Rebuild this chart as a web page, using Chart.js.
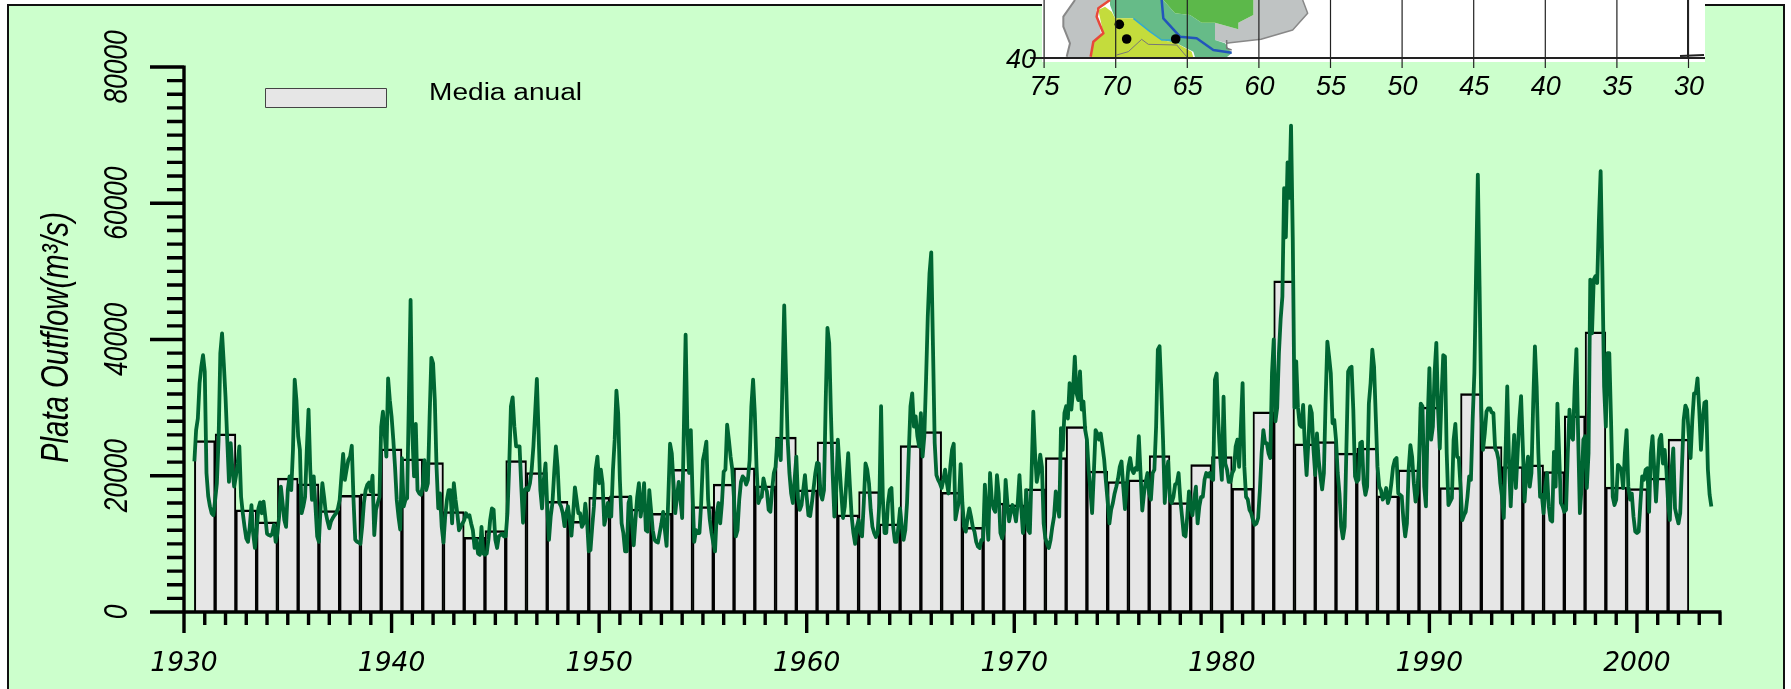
<!DOCTYPE html>
<html><head><meta charset="utf-8">
<style>html,body{margin:0;padding:0;background:#fff;overflow:hidden}canvas{display:block}</style>
<script src="https://cdn.jsdelivr.net/npm/chart.js@4"></script>
</head><body><canvas id="c" width="1791" height="689"></canvas>
<script>
const seriesStartYear = 1930.5;
const firstBarYear = 1931;
const yTickLabels = [0, 20000, 40000, 60000, 80000];
const xTickLabels = [1930, 1940, 1950, 1960, 1970, 1980, 1990, 2000];
const insetLonLabels = [75, 70, 65, 60, 55, 50, 45, 40, 35, 30];
const annualMean = [
25160,26150,14980,13220,19640,18800,14880,17140,17330,23940,22480,21930,14730,10970,11950,22230,20470,16260,13320,
16850,17040,15090,14500,20960,15470,18760,21150,18510,25660,17920,24970,14250,17670,12930,24430,26490,17580,12440,
15970,15720,18070,22670,27220,20670,19140,19390,22960,16060,21640,22810,18170,29380,48620,24680,25020,23310,24050,
17040,20860,30070,18260,32070,24280,21350,21600,20610,28790,41130,18320,18110,19640,25370];
const monthlyFlow = [
22100,26700,28400,33600,36000,37700,35300,20400,17000,15500,14500,14200,
16450,18900,25300,38000,40900,36500,31600,25300,19100,24800,20900,18400,
19900,21800,24300,16900,14500,12500,10800,10300,12500,15700,11500,9400,
12000,15200,16100,14500,16200,14000,11500,11300,11200,11500,12800,10300,
11500,14000,18400,16000,13500,12500,17900,19900,17900,23800,34100,31100,
25800,23800,14500,15500,16900,23800,29700,20900,16450,19900,15500,11100,
10300,15500,18900,16900,14500,13300,12300,13300,13800,14200,14500,15200,
16450,19900,23200,19400,20900,22300,22800,24400,16450,10600,10300,10200,
10000,12500,16000,17900,18700,19000,17700,20000,11300,15000,16000,16900,
27200,29400,26200,22800,34300,31100,28700,25300,21300,16450,14000,12100,
22600,15500,16450,16700,31100,45800,26200,19900,27600,17900,17400,17200,
18400,22300,17900,18900,28700,37300,36500,31100,21300,15200,17400,12500,
10200,14000,16450,17900,17900,13000,18900,16450,14500,12000,12500,13000,
13500,14500,14000,14200,13000,12000,9400,10600,8600,8400,12500,8600,
8400,8600,10600,13500,15200,15000,10600,9400,11100,11300,11500,11100,
11100,14500,21300,30200,31500,27200,24300,24300,24300,18400,13100,17900,
18200,17900,18900,20900,24300,29200,34200,26200,17900,15200,19400,21800,
15500,10600,14000,16000,20400,24300,21300,16000,15500,14500,12600,14500,
15500,13500,11200,14500,18300,16450,14500,14500,12500,13000,15900,13500,
8900,9100,12500,15500,20900,22800,18900,20900,18900,12800,14000,16000,
14000,14000,20900,25300,32500,29200,19400,13000,11600,8900,8900,16000,
16900,13000,9800,13500,16900,18900,14000,16000,18900,12000,11800,17900,
15000,12000,10600,10300,10200,11600,13000,14700,12000,9700,16900,24700,
23300,18900,14500,16900,19100,16500,13800,27200,40700,26700,20400,26700,
17400,10300,12000,11600,11600,16000,22300,23500,25000,16500,13500,11600,
10100,8900,14500,16000,13000,16000,20600,20900,27500,25300,22800,20900,
16500,11100,12000,16500,19100,19900,19600,18700,19400,22300,30200,34100,
29200,21300,16000,16700,16900,19600,18400,17700,15000,14700,17900,20400,
21300,25300,23800,22300,34100,45000,35000,25300,20400,17400,16000,19400,
22800,16500,15000,15700,17900,20100,16900,14200,14100,16000,18200,20400,
21900,21800,17400,16500,17900,31100,41700,39500,29200,20400,14000,17400,
25300,21300,17400,13800,15500,19400,23300,18400,14000,11600,10000,12500,
13500,11600,11100,16000,21800,20900,18900,15000,12500,11600,11000,11600,
16000,30200,16900,11600,11600,16000,17900,18200,12500,10300,10300,12500,
15200,12500,10600,12000,16000,23300,30200,32100,27200,28700,25800,24300,
29200,22800,25800,34100,43400,49700,52800,39000,24800,20100,19400,18900,
18200,19400,20900,19000,17400,21300,23800,24700,13600,15000,16200,21700,
16000,12500,11800,13800,15200,14000,12500,11800,10300,9600,9400,10600,
10600,18700,14500,10600,20400,16500,15200,14700,20100,17400,11600,10800,
12000,19400,16000,13300,14700,15700,14700,13300,16000,20100,15500,11600,
14000,17900,12000,11600,20400,29400,23300,19100,20600,23100,21300,13000,
10800,10000,9400,10600,12500,14000,17700,15500,14000,27000,23800,29200,
30200,28400,33600,29700,32600,37500,32100,31100,35300,29700,30900,26700,
25300,20900,17900,14500,20400,26700,26200,25300,26200,24300,22300,19100,
16200,13000,15000,16000,17400,18400,19600,21300,22100,18400,15100,18400,
21300,22600,20900,20400,21100,20900,25800,20400,14900,17400,19100,20400,
17400,16500,20400,20900,27200,38500,39000,32600,25300,16000,20400,22100,
16500,16000,16900,18700,18900,20400,16500,14000,11300,11100,14000,17700,
15500,14200,16500,18400,13000,15500,16900,16900,19400,20400,19900,20400,
19600,19400,34100,35000,27700,22800,19400,31600,21800,20900,19100,19100,
20400,20900,24300,25300,21300,27200,33600,21300,16900,16500,15000,14500,
13500,12800,13000,13800,17900,23300,26700,24800,24800,23300,22600,35100,
40000,28000,30000,38000,43000,46300,62200,55000,66000,60800,71400,55000,
30000,36800,30000,27500,27200,30400,24300,20100,24800,30200,29200,23800,
20100,26200,22300,19900,18000,20400,31100,39700,37500,35000,27700,28200,
25300,20400,17400,12500,10800,12500,23800,35300,35800,36000,29700,19900,
19100,19400,24800,25000,18900,17200,18400,30600,33600,38500,36000,28700,
21300,18400,17900,16500,16900,18200,16000,16900,18900,21300,22300,22600,
17400,17200,17000,13500,11100,13000,20900,24500,22800,18900,16200,17400,
22300,30600,30200,18400,15500,28200,35800,25300,27200,35100,39500,29700,
24000,31600,37700,37500,23300,15700,16200,16700,25300,27600,22800,22600,
18400,13500,14200,14700,16900,19900,19400,28200,35100,50200,64200,47800,
29700,23800,26200,29400,29900,29900,29300,29200,24000,23500,22300,18900,
16900,13800,23300,33100,22300,15500,21300,26000,18200,23300,28200,31700,
24300,16200,20400,22800,18400,20400,30600,39000,33100,23300,16900,17200,
14500,18400,20400,15500,13500,13300,23500,18400,30600,23300,16000,15500,
14700,15000,23300,29700,25800,25300,33100,38600,25800,14500,18400,25300,
25800,18200,23300,48800,40900,48800,49300,48300,57600,64700,50200,33100,
27200,38000,38000,28200,16900,15700,16500,21600,21300,20900,18200,23300,
26700,18400,16500,17400,14000,11800,11600,11800,16000,19900,19400,20900,
21100,14700,23300,25800,20900,16200,20900,25300,26000,21800,23800,20900,
16000,13500,20900,24000,15200,14000,13000,14500,21300,28200,30300,29700,
25800,22600,28200,32100,32100,34300,29700,23800,28200,30700,30900,20900,17200,15500];

const G = {frameL:8, frameT:5, frameR:1784};
// inset map fragment: points in crop units of the inset (3 units = 1 px, origin x=1030,y=0)
const mapFills = [
 ['#bfc3c3',[[135,0],[100,50],[100,80],[120,130],[110,172],[182,172],[190,125],[215,110],[198,30],[240,0]]],
 ['#bfc3c3',[[670,0],[818,0],[833,40],[788,90],[693,118],[600,128],[590,130],[555,120],[555,68],[625,88],[625,68],[670,45]]],
 ['#66bb88',[[240,0],[240,15],[255,55],[310,55],[360,95],[395,120],[440,130],[490,155],[495,172],[590,172],[605,160],[585,130],[555,120],[555,68],[515,68],[480,45],[435,40],[400,0]]],
 ['#5cb84a',[[400,0],[670,0],[670,45],[625,68],[625,88],[555,68],[515,68],[480,45],[435,40]]],
 ['#c4dc3c',[[225,20],[205,30],[220,100],[190,125],[185,172],[490,172],[485,155],[440,130],[395,120],[360,95],[310,55],[255,55],[245,35]]]
];
const mapLines = [
 ['#e8483a',2.5,[[240,0],[205,25],[200,50],[220,100],[190,125],[182,170]]],
 ['#2255bb',2.5,[[395,0],[400,55],[450,110],[500,115],[550,150],[605,158]]],
 ['#33aacc',1.5,[[310,55],[360,95],[395,120],[440,120]]],
 ['#777777',1,[[260,165],[295,155],[335,118],[355,133],[440,135],[470,170]]],
 ['#888888',2,[[135,0],[100,50],[100,80],[120,130],[110,170]]],
 ['#888888',1.5,[[590,130],[600,128],[693,118],[788,90],[833,40],[818,0]]],
 ['#777777',1.5,[[590,120],[590,145],[605,150]]]
];
const mapDots = [[268,73],[290,117],[437,117]];

function fitText(ctx, text, x, y, font, width, rot) {
  ctx.save();
  ctx.font = font; ctx.fillStyle = '#000'; ctx.textAlign = 'left'; ctx.textBaseline = 'alphabetic';
  ctx.translate(x, y); if (rot) ctx.rotate(rot);
  ctx.scale(width / ctx.measureText(text).width, 1);
  ctx.fillText(text, 0, 0);
  ctx.restore();
}
const pagePlugin = {
  id: 'page',
  beforeDraw(chart) {
    const ctx = chart.ctx, W = chart.width, H = chart.height;
    ctx.save();
    ctx.fillStyle = '#fff'; ctx.fillRect(0, 0, W, H);
    ctx.fillStyle = '#ccffcc'; ctx.fillRect(G.frameL, G.frameT, G.frameR - G.frameL, H);
    ctx.strokeStyle = '#111'; ctx.lineWidth = 2;
    ctx.beginPath(); ctx.moveTo(G.frameL, H); ctx.lineTo(G.frameL, G.frameT); ctx.lineTo(G.frameR, G.frameT); ctx.lineTo(G.frameR, H); ctx.stroke();
    // inset
    ctx.fillStyle = '#fff'; ctx.fillRect(1042, 0, 663, 62);
    const mx = v => 1030 + v / 3, my = v => v / 3;
    ctx.lineJoin = 'round';
    mapFills.forEach(([c, p]) => { ctx.fillStyle = c; ctx.beginPath(); p.forEach(q => ctx.lineTo(mx(q[0]), my(q[1]))); ctx.closePath(); ctx.fill(); });
    mapLines.forEach(([c, w, p]) => { ctx.strokeStyle = c; ctx.lineWidth = w; ctx.beginPath(); p.forEach(q => ctx.lineTo(mx(q[0]), my(q[1]))); ctx.stroke(); });
    ctx.fillStyle = '#000';
    mapDots.forEach(q => { ctx.beginPath(); ctx.arc(mx(q[0]), my(q[1]), 4.8, 0, 7); ctx.fill(); });
    const lonX = lon => 1043.6 + (75 - lon) * 14.32;
    ctx.strokeStyle = '#222'; ctx.lineWidth = 1.2;
    insetLonLabels.forEach(lon => { ctx.beginPath(); ctx.moveTo(lonX(lon) + .5, 0); ctx.lineTo(lonX(lon) + .5, 68); ctx.stroke(); });
    ctx.lineWidth = 2;
    ctx.beginPath(); ctx.moveTo(1030, 58); ctx.lineTo(1705, 58); ctx.stroke();
    ctx.beginPath(); ctx.moveTo(lonX(30) , 0); ctx.lineTo(lonX(30), 58); ctx.stroke();
    ctx.beginPath(); ctx.moveTo(lonX(30) - 8, 56); ctx.lineTo(1704, 55); ctx.stroke();
    ctx.fillStyle = '#000'; ctx.font = 'italic 27px "Liberation Sans"'; ctx.textAlign = 'center'; ctx.textBaseline = 'alphabetic';
    insetLonLabels.forEach(lon => ctx.fillText(String(lon), lonX(lon) + 1, 95));
    ctx.textAlign = 'right'; ctx.fillText('40', 1036, 68);
    // legend
    ctx.fillStyle = '#e6e6e6'; ctx.fillRect(265, 88, 121, 19);
    ctx.strokeStyle = '#444'; ctx.lineWidth = 1; ctx.strokeRect(265.5, 88.5, 121, 19);
    ctx.restore();
    fitText(ctx, 'Media anual', 429, 100, '23px "Liberation Sans"', 153);
    fitText(ctx, 'Plata Outflow(m³/s)', 68, 463, 'italic 39px "Liberation Sans"', 251, -Math.PI / 2);
    const ys = chart.scales.y;
    yTickLabels.forEach(v => { const s = String(v), w = 14.6 * s.length;
      fitText(ctx, s, 127, ys.getPixelForValue(v) + w / 2, 'italic 33px "Liberation Sans"', w, -Math.PI / 2); });
  },
  afterDatasetsDraw(chart) {
    const ctx = chart.ctx, xs = chart.scales.x, ys = chart.scales.y;
    const x0 = xs.getPixelForValue(xs.min), y0 = ys.getPixelForValue(0);
    ctx.save();
    ctx.strokeStyle = '#000'; ctx.lineWidth = 3.4; ctx.lineCap = 'butt';
    ctx.beginPath();
    ctx.moveTo(x0, ys.getPixelForValue(ys.max) - 1.5); ctx.lineTo(x0, y0 + 21);
    ctx.moveTo(x0 - 34, y0); ctx.lineTo(xs.getPixelForValue(xs.max) + 1.5, y0);
    ys.ticks.forEach(t => { const y = ys.getPixelForValue(t.value); const major = t.value % 20000 === 0;
      ctx.moveTo(x0 - (major ? 34 : 17), y); ctx.lineTo(x0, y); });
    xs.ticks.forEach(t => { const x = xs.getPixelForValue(t.value); const major = t.value % 10 === 0;
      ctx.moveTo(x, y0); ctx.lineTo(x, y0 + (major ? 21 : 13)); });
    ctx.stroke();
    ctx.restore();
  }
};
new Chart(document.getElementById('c'), {
  type: 'bar',
  data: { datasets: [
    { type: 'line', label: 'Plata Outflow', order: 0,
      data: monthlyFlow.map((v, i) => ({ x: seriesStartYear + i / 12, y: v })),
      borderColor: '#006633', borderWidth: 3.8, pointRadius: 0, tension: 0, borderJoinStyle: 'round', borderCapStyle: 'butt', fill: false },
    { type: 'bar', label: 'Media anual', order: 1,
      data: annualMean.map((v, i) => ({ x: firstBarYear + i, y: v })),
      backgroundColor: '#e6e6e6', borderColor: '#000', borderSkipped: 'bottom',
      borderWidth: { left: 2, right: 2, top: 2.5, bottom: 0 }, barPercentage: 1, categoryPercentage: 1 }
  ]},
  options: {
    responsive: false, animation: false, events: [],
    layout: { padding: { left: 0, top: 67, right: 71, bottom: 0 } },
    plugins: { legend: { display: false }, tooltip: { enabled: false } },
    scales: {
      x: { type: 'linear', min: 1930, max: 2004, offset: false,
        grid: { display: false, drawTicks: false }, border: { display: false },
        afterFit: s => { s.height = 77; },
        ticks: { stepSize: 1, autoSkip: false, maxRotation: 0, minRotation: 0, padding: 36, color: '#000',
          font: { family: '"DejaVu Sans"', size: 26.5, style: 'italic' },
          callback: v => xTickLabels.includes(v) ? String(v) : '' } },
      y: { type: 'linear', min: 0, max: 80000,
        grid: { display: false, drawTicks: false }, border: { display: false },
        afterFit: s => { s.width = 184; },
        ticks: { display: false, stepSize: 2000, autoSkip: false } }
    }
  },
  plugins: [pagePlugin]
});
</script></body></html>
